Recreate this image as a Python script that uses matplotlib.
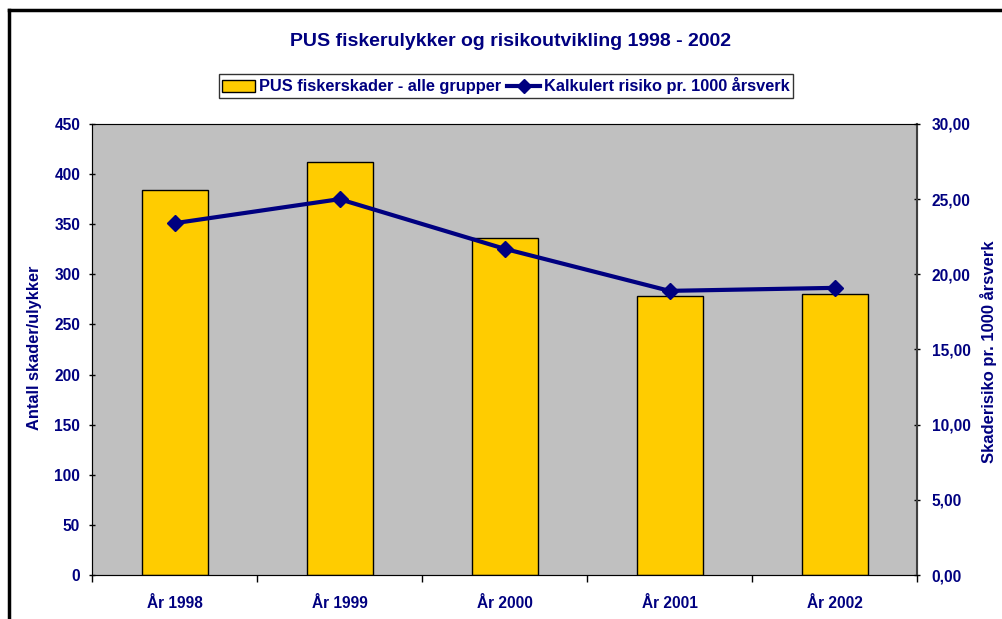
import matplotlib
matplotlib.use("Agg")
import matplotlib.pyplot as plt
from matplotlib.lines import Line2D
from matplotlib.patches import Patch
import numpy as np

categories = ["År 1998", "År 1999", "År 2000", "År 2001", "År 2002"]
skader = [384, 412, 336, 278, 280]
risiko = [23.4, 25.0, 21.7, 18.9, 19.1]
left_ticks = [0, 50, 100, 150, 200, 250, 300, 350, 400, 450]
right_ticks = [0, 5, 10, 15, 20, 25, 30]

navy = "#000080"
plt.rcParams['font.family'] = ['Liberation Sans', 'DejaVu Sans']
plt.rcParams['font.weight'] = 'bold'

W, H = 1003, 619
fig = plt.figure(figsize=(W/100, H/100), dpi=100)
ax = fig.add_axes([92/W, 1-575/H, (917-92)/W, (575-124)/H])
ax.set_facecolor("#C0C0C0")
x = np.arange(len(categories))
ax.bar(x, skader, width=0.4, color="#FFCC00", edgecolor="black", linewidth=1.0, zorder=2)
ax.set_xlim(-0.5, len(categories)-0.5)
ax.set_ylim(0, 450)
ax.set_yticks(left_ticks)
ax.set_yticklabels([str(t) for t in left_ticks], color=navy, fontsize=11.2, fontweight='bold')
ax.set_xticks(x)
ax.set_xticklabels(categories, color=navy, fontsize=11.2, fontweight='bold')
ax.set_xticks(np.arange(-0.5, len(categories), 1.0), minor=True)
ax.tick_params(axis='x', which='major', length=0, pad=15)
ax.tick_params(axis='x', which='minor', length=5, direction='out', width=1)
ax.tick_params(axis='y', length=5, direction='inout', width=1, pad=6)
for s in ['top', 'right']:
    ax.spines[s].set_color("#808080")
ax.spines['left'].set_color("#404040")
ax.spines['bottom'].set_color("#404040")

ax2 = ax.twinx()
ax2.plot(x, risiko, color=navy, linewidth=3, marker='D', markersize=8, zorder=3)
ax2.set_ylim(0, 30)
ax2.set_yticks(right_ticks)
ax2.set_yticklabels([f"{t:.2f}".replace('.', ',') for t in right_ticks], color=navy, fontsize=11.2, fontweight='bold')
ax2.tick_params(axis='y', length=5, direction='inout', width=1, pad=8)
ax2.spines['right'].set_color("#404040")
ax2.spines['right'].set_linewidth(1.5)

fig.text(35/W, 1-348/H, "Antall skader/ulykker", rotation=90, ha='center', va='center',
         color=navy, fontsize=11.8, fontweight='bold')
fig.text(989/W, 1-352/H, "Skaderisiko pr. 1000 årsverk", rotation=90, ha='center', va='center',
         color=navy, fontsize=12, fontweight='bold')

fig.text(511/W, 1-42/H, "PUS fiskerulykker og risikoutvikling 1998 - 2002", ha='center', va='center',
         color=navy, fontsize=14, fontweight='bold')

handles = [Patch(facecolor="#FFCC00", edgecolor="black", linewidth=1.0),
           Line2D([0], [0], color=navy, linewidth=3, marker='D', markersize=7)]
labels = ["PUS fiskerskader - alle grupper", "Kalkulert risiko pr. 1000 årsverk"]
leg = fig.legend(handles, labels, loc='center', bbox_to_anchor=(506/W, 1-86/H), ncol=2,
                 frameon=True, fancybox=False, edgecolor="black", fontsize=11.8,
                 handlelength=2.0, handletextpad=0.25, columnspacing=0.4, borderpad=0.2)
for t in leg.get_texts():
    t.set_color(navy)
    t.set_fontweight('bold')
leg.get_frame().set_linewidth(1.0)

fig.add_artist(Line2D([9/W, 1.0], [1-10/H, 1-10/H], color="black", linewidth=2.5, transform=fig.transFigure))
fig.add_artist(Line2D([9/W, 9/W], [0, 1-10/H], color="black", linewidth=2.5, transform=fig.transFigure))

fig.savefig("out.png", dpi=100)
